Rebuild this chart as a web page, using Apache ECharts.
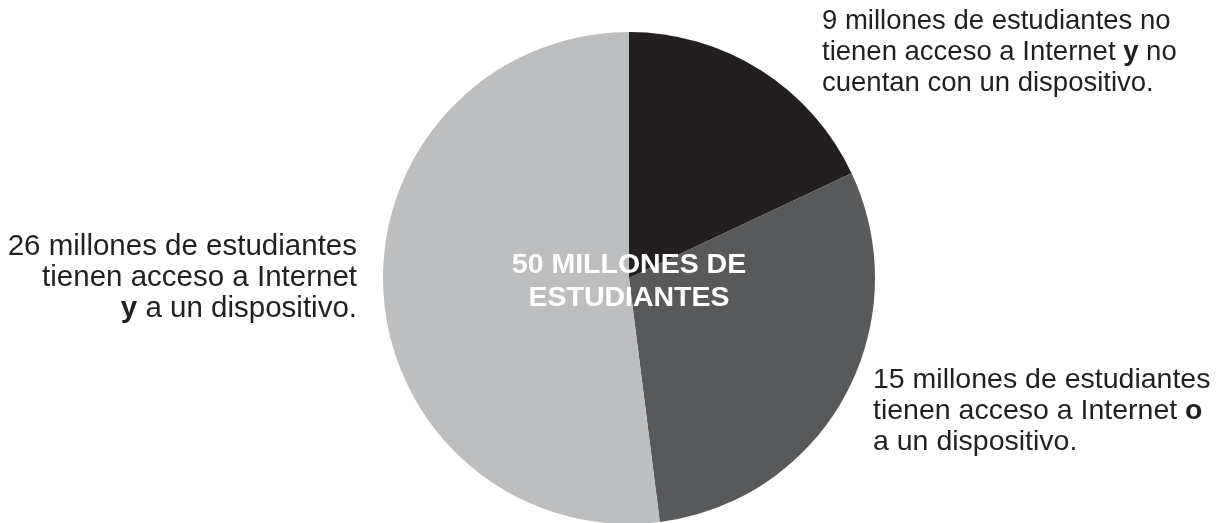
<!DOCTYPE html>
<html><head><meta charset="utf-8">
<script src="https://cdn.jsdelivr.net/npm/echarts@6/dist/echarts.min.js"></script>
<style>html,body{margin:0;padding:0;background:#fff}#c{width:1227px;height:523px}</style>
</head><body><div id="c"></div>
<script>
const categories = ['Sin Internet ni dispositivo', 'Internet o dispositivo', 'Internet y dispositivo'];
const values = [9, 15, 26];
const colors = ['#231f20', '#58595b', '#bcbec0'];
const centerLabel = ['50 MILLONES DE', 'ESTUDIANTES'];

const chart = echarts.init(document.getElementById('c'));
const FONT = '"Liberation Sans", Arial, sans-serif';
const TXT = '#231f20';
const LH = 31;
function mkRich(fs) {
  return {
    n: {fontFamily: FONT, fontSize: fs, fill: TXT, lineHeight: LH},
    b: {fontFamily: FONT, fontSize: fs, fill: TXT, fontWeight: 'bold', lineHeight: LH}
  };
}
function txt(x, y, text, align, fs) {
  return {type: 'text', x: x, y: y, z: 100,
    style: {text: text, rich: mkRich(fs), align: align, verticalAlign: 'top', fontFamily: FONT, fontSize: fs, fill: TXT, lineHeight: LH}};
}
chart.setOption({
  animation: false,
  series: [{
    type: 'pie',
    center: [629, 278],
    radius: 246,
    startAngle: 90,
    clockwise: true,
    silent: true,
    label: {show: false},
    labelLine: {show: false},
    data: categories.map((c, i) => ({name: c, value: values[i], itemStyle: {color: colors[i]}}))
  }],
  graphic: [
    txt(822, 6, '{n|9 millones de estudiantes no}\n{n|tienen acceso a Internet }{b|y}{n| no}\n{n|cuentan con un dispositivo.}', 'left', 27.5),
    txt(357, 231, '{n|26 millones de estudiantes}\n{n|tienen acceso a Internet}\n{b|y}{n| a un dispositivo.}', 'right', 29.5),
    txt(873, 365, '{n|15 millones de estudiantes}\n{n|tienen acceso a Internet }{b|o}\n{n|a un dispositivo.}', 'left', 28.5),
    {type: 'text', x: 629, y: 282, z: 100, style: {text: centerLabel.join('\n'), align: 'center', verticalAlign: 'middle',
      fontFamily: FONT, fontSize: 28.5, fontWeight: 'bold', fill: '#ffffff', lineHeight: 33}}
  ]
});
</script></body></html>
